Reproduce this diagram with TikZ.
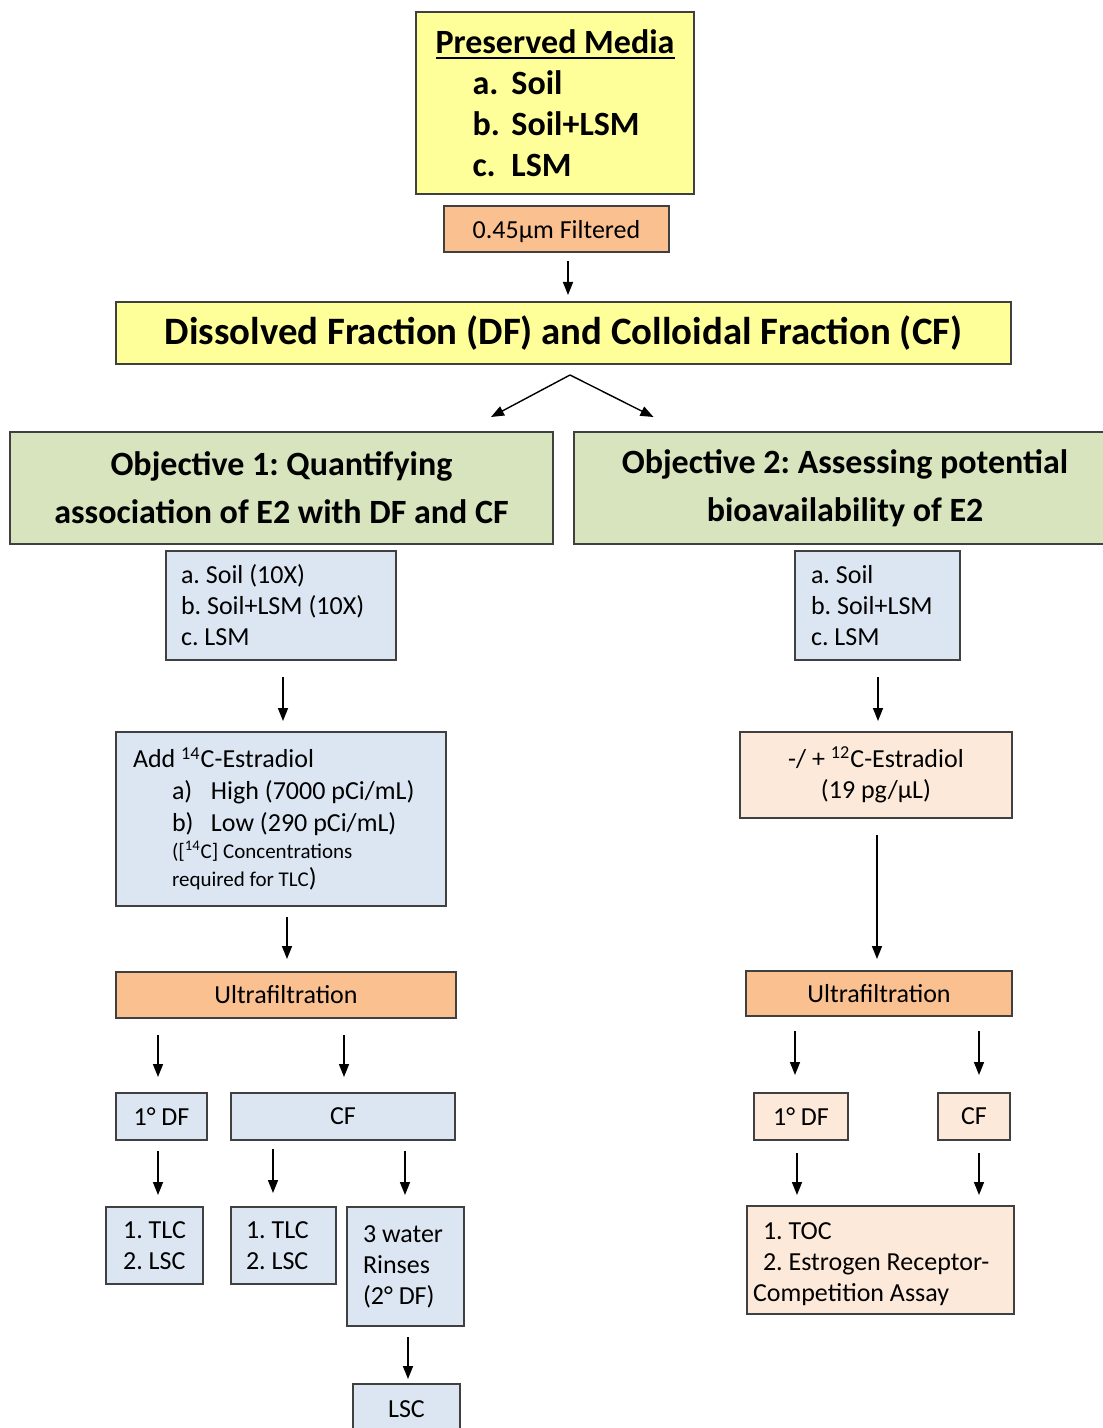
\documentclass[tikz,border=0pt]{standalone}
\usepackage{fontspec}
\setmainfont{Carlito}
\usetikzlibrary{arrows.meta}
\definecolor{cYel}{HTML}{FFFF99}
\definecolor{cOra}{HTML}{FAC090}
\definecolor{cGrn}{HTML}{D7E4BD}
\definecolor{cBlu}{HTML}{DCE6F2}
\definecolor{cPch}{HTML}{FDE9D9}
\newcommand\ulined[1]{\setbox0\hbox{#1}\rlap{\rule[-3pt]{\wd0}{1.4pt}}\box0}
\newcommand\varr[5]{\path (#3,0) coordinate (tmpx);
  \draw[arr,shorten <=#4,shorten >=#5] (#1.south -| tmpx) -- (#2.north -| tmpx);}
\frenchspacing
\begin{document}
\frenchspacing
\begin{tikzpicture}[x=0.5pt,y=-0.5pt, font=\fontsize{13}{15.5}\selectfont,
  box/.style={draw=black!75, line width=1pt, inner sep=0pt},
  arr/.style={-{Triangle[length=6.5pt,width=5pt]}, line width=0.8pt},
  big/.style={font=\bfseries\fontsize{17}{20.5}\selectfont},
  obj/.style={box, fill=cGrn, minimum width=271.5pt, minimum height=56pt, align=center, font=\bfseries\fontsize{17}{24}\selectfont}]
\useasboundingbox (0,0) rectangle (1102,1428);

% top
\node[box, fill=cYel, minimum width=139pt, minimum height=91pt, big, align=flush left] (pm) at (555,103)
  {\ulined{Preserved Media}\\
   \hspace{18.5pt}\makebox[19.5pt][l]{a.}Soil\\
   \hspace{18.5pt}\makebox[19.5pt][l]{b.}Soil+LSM\\
   \hspace{18.5pt}\makebox[19.5pt][l]{c.}LSM};
\node[box, fill=cOra, minimum width=112.5pt, minimum height=23pt, text depth=0pt, text height=10pt] (filt) at (556.5,229) {0.45µm Filtered};
\node[box, fill=cYel, minimum width=447.5pt, minimum height=31pt, font=\bfseries\fontsize{19.4}{24}\selectfont] (dfcf) at (563.5,333)
  {Dissolved Fraction (DF) and Colloidal Fraction (CF)};

\node[obj] (obj1) at (281.5,488) {Objective 1: Quantifying\\association of E2 with DF and CF};
\node[obj] (obj2) at (845,488) {Objective 2: Assessing potential\\bioavailability of E2};

% left column
\node[box, fill=cBlu, minimum width=115pt, minimum height=54.5pt, inner xsep=7.5pt, text width=100pt, align=flush left] (listL) at (281,605.5)
  {a. Soil (10X)\\b. Soil+LSM (10X)\\c. LSM};
\node[box, fill=cBlu, minimum width=165pt, minimum height=87pt, inner xsep=8.5pt, text width=148pt, align=flush left, font=\fontsize{13}{16}\selectfont] (add14) at (281,819)
  {Add \textsuperscript{14}C-Estradiol\\
   \hspace{19.5pt}\makebox[19.5pt][l]{a)}High (7000 pCi/mL)\\
   \hspace{19.5pt}\makebox[19.5pt][l]{b)}Low (290 pCi/mL)\\[-2.5pt]
   \hspace{19.5pt}{\fontsize{10.5}{14}\selectfont ([\textsuperscript{14}C] Concentrations}\\[-2pt]
   \hspace{19.5pt}{\fontsize{10.5}{14}\selectfont required for TLC})};
\node[box, fill=cOra, minimum width=170pt, minimum height=23pt] (ufL) at (286,995) {Ultrafiltration};
\node[box, fill=cBlu, minimum width=45.5pt, minimum height=23.5pt] (dfL) at (161.5,1116.5) {1° DF};
\node[box, fill=cBlu, minimum width=112pt, minimum height=23.5pt] (cfL) at (343,1116.5) {CF};
\node[box, fill=cBlu, minimum width=48.5pt, minimum height=38.5pt, align=flush left] (tlc1) at (154.5,1245.5) {1. TLC\\2. LSC};
\node[box, fill=cBlu, minimum width=52.5pt, minimum height=38.5pt, inner xsep=7.5pt, text width=37.5pt, align=flush left] (tlc2) at (283.5,1245.5) {1. TLC\\2. LSC};
\node[box, fill=cBlu, minimum width=58.5pt, minimum height=59.5pt, inner xsep=8pt, text width=42.5pt, align=flush left] (rinse) at (405.5,1266.5) {3 water\\Rinses\\(2° DF)};
\node[box, fill=cBlu, minimum width=53.5pt, minimum height=25pt] (lsc) at (406.5,1409) {LSC};

% right column
\node[box, fill=cBlu, minimum width=82.5pt, minimum height=54.5pt, inner xsep=8pt, text width=66.5pt, align=flush left] (listR) at (877.5,605.5)
  {a. Soil\\b. Soil+LSM\\c. LSM};
\node[box, fill=cPch, minimum width=136pt, minimum height=43pt, align=center] (estr) at (876,775)
  {-/ + \textsuperscript{12}C-Estradiol\\(19 pg/µL)};
\node[box, fill=cOra, minimum width=133pt, minimum height=22.5pt] (ufR) at (879,993.5) {Ultrafiltration};
\node[box, fill=cPch, minimum width=47pt, minimum height=23.5pt] (dfR) at (801,1116.5) {1° DF};
\node[box, fill=cPch, minimum width=36pt, minimum height=23.5pt] (cfR) at (974,1116.5) {CF};
\node[box, fill=cPch, minimum width=133.5pt, minimum height=54pt, inner xsep=3pt, text width=127.5pt, align=flush left] (outR) at (880.5,1260)
  {\rule{0pt}{12.5pt}\hspace{5pt}1. TOC\\\hspace{5pt}2. Estrogen Receptor-\\Competition Assay};

% connectors
\varr{filt}{dfcf}{568}{4pt}{3pt}
\coordinate (split) at ([xshift=3.25pt,yshift=-5pt]dfcf.south);
\draw[arr, line width=0.7pt] (split) -- ([xshift=-31.5pt,yshift=7pt]obj1.north east);
\draw[arr, line width=0.7pt] (split) -- ([xshift=40.5pt,yshift=7pt]obj2.north west);

\varr{listL}{add14}{283}{8pt}{5pt}
\varr{add14}{ufL}{287}{5pt}{6pt}
\varr{ufL}{dfL}{158}{8pt}{7.5pt}
\varr{ufL}{cfL}{344}{8pt}{7.5pt}
\varr{dfL}{tlc1}{158}{5pt}{5.5pt}
\varr{cfL}{tlc2}{273}{4pt}{6.5pt}
\varr{cfL}{rinse}{405}{5pt}{5.5pt}
\varr{rinse}{lsc}{408}{5pt}{2pt}

\varr{listR}{estr}{878}{8pt}{5pt}
\varr{estr}{ufR}{877}{8pt}{5.5pt}
\varr{ufR}{dfR}{795}{7pt}{8.5pt}
\varr{ufR}{cfR}{979}{7pt}{8.5pt}
\varr{dfR}{outR}{797}{6pt}{5pt}
\varr{cfR}{outR}{979}{6pt}{5pt}
\end{tikzpicture}
\end{document}
